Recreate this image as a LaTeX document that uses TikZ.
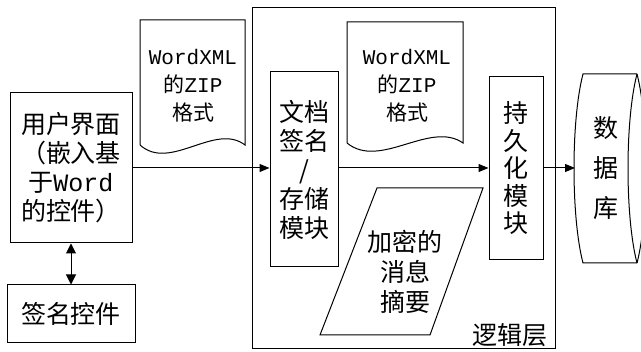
\documentclass[tikz,border=0pt]{standalone}
\usepackage{fontspec}
\setmainfont{Noto Sans CJK SC}
\newfontfamily\latfont{Liberation Mono}
\newcommand\mylat[1]{{\latfont #1}}
\usetikzlibrary{arrows.meta}
\begin{document}
\begin{tikzpicture}[x=1pt,y=-1pt,line width=1pt,
  box/.style={draw,rectangle,inner sep=0pt,align=center},
  big/.style={font=\fontsize{25}{29}\selectfont},
  small/.style={font=\fontsize{21}{28}\selectfont},
  tip/.style={-{Triangle[length=10pt,width=8pt]}},
  dtip/.style={{Triangle[length=10pt,width=10pt]}-{Triangle[length=10pt,width=10pt]}}]
\useasboundingbox (0,0) rectangle (641,352);
\fill[white] (0,0) rectangle (641,352);
% logic layer
\node[draw,rectangle,minimum width=303pt,minimum height=341pt,inner sep=0pt] (logic) at (403.5,178.5) {};
\node[big,anchor=south east,inner sep=0pt] (loglabel) at (548,347) {逻辑层};
% UI box
\node[box,big,minimum width=122pt,minimum height=150pt] (ui) at (71,168)
  {用户界面\\（嵌入基\\于\mylat{Word}\\的控件）};
\node[box,big,minimum width=128pt,minimum height=58pt] (sign) at (71,314) {签名控件};
\draw[dtip] (ui.south) -- (sign.north);
% document shape 1
\draw (140,145) -- (140,20) -- (245,20) -- (245,145)
  .. controls (215,122) and (170,172) .. (140,145);
\node[small,align=center,inner sep=0pt] (doc1) at (193,86)
  {\mylat{WordXML}\\的\mylat{ZIP}\\格式};
% document signing module
\node[box,big,minimum width=68pt,minimum height=195pt] (dsm) at (304,169.5)
  {文档\\签名\\/\\存储\\模块};
\draw[tip] (ui.east) -- (ui.east -| dsm.west);
% document shape 2
\draw (347,143) -- (347,22) -- (463,22) -- (463,143)
  .. controls (430,120) and (380,170) .. (347,143);
\node[small,align=center,inner sep=0pt] (doc2) at (407,86)
  {\mylat{WordXML}\\的\mylat{ZIP}\\格式};
% persistence
\node[box,big,minimum width=54pt,minimum height=183pt,font=\fontsize{25}{27.5}\selectfont] (pers) at (516,168.5)
  {持\\久\\化\\模\\块};
\draw[tip] (ui.east -| dsm.east) -- (ui.east -| pers.west);
% digest parallelogram
\draw (377,188) -- (483,188) -- (430,335) -- (320,335) -- cycle;
\node[big,align=center,inner sep=0pt,font=\fontsize{25}{30}\selectfont] (digest) at (405,272) {加密的\\消息\\摘要};
% database
\node[inner sep=0pt,minimum width=64pt,minimum height=189pt,font=\fontsize{25}{40}\selectfont,align=center] (db) at (606,168.5) {数\\据\\库};
\coordinate (dbw) at (575,168);
\draw (637,74) -- (583,74) .. controls (571,120) and (571,217) .. (583,263) -- (637,263);
\draw (637,74) .. controls (625,120) and (625,217) .. (637,263);
\draw (637,74) .. controls (649,120) and (649,217) .. (637,263);
\draw[tip] (ui.east -| pers.east) -- (dbw);
\end{tikzpicture}
\end{document}
